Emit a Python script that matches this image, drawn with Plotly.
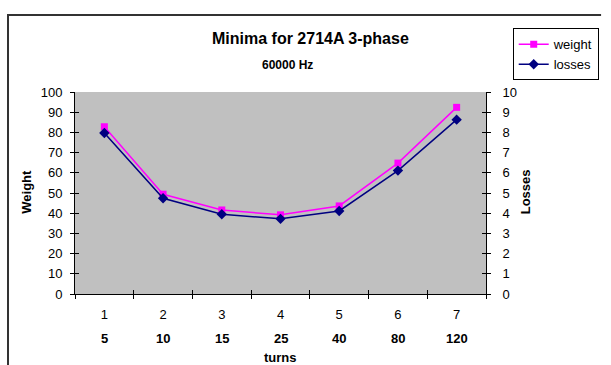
import plotly.graph_objects as go

categories = [1, 2, 3, 4, 5, 6, 7]
turns = ["5", "10", "15", "25", "40", "80", "120"]
weight = [82.8, 49.4, 41.6, 39.2, 43.6, 64.8, 92.4]
losses = [7.97, 4.74, 3.95, 3.72, 4.11, 6.11, 8.63]

FONT = "Arial, Liberation Sans, sans-serif"
boundaries = [c - 0.5 for c in categories] + [categories[-1] + 0.5]

fig = go.Figure()
fig.add_trace(go.Scatter(x=categories, y=weight, name="weight", mode="lines+markers",
                         line=dict(color="#FF00FF", width=1.5),
                         marker=dict(symbol="square", size=7, color="#FF00FF"),
                         xaxis="x", yaxis="y"))
fig.add_trace(go.Scatter(x=categories, y=losses, name="losses", mode="lines+markers",
                         line=dict(color="#000080", width=1.5),
                         marker=dict(symbol="diamond", size=8, color="#000080"),
                         xaxis="x", yaxis="y2"))
for xa, ya in [("x2", "y"), ("x3", "y"), ("x", "y3"), ("x", "y4")]:
    fig.add_trace(go.Scatter(x=[], y=[], xaxis=xa, yaxis=ya, showlegend=False, hoverinfo="skip"))

tickfont = dict(family=FONT, size=13, color="black")
common_y = dict(range=[0, 100], tickvals=list(range(0, 101, 10)), showgrid=False, zeroline=False)

fig.update_layout(
    width=611, height=365,
    margin=dict(l=75, r=119, t=92, b=71),
    paper_bgcolor="white", plot_bgcolor="#C0C0C0",
    font=dict(family=FONT, size=13, color="black"),
    showlegend=True,
    legend=dict(x=1.065, y=1.315, xanchor="left", yanchor="top",
                bgcolor="white", bordercolor="black", borderwidth=1,
                font=dict(family=FONT, size=13, color="black"),
                itemwidth=30, tracegroupgap=0),
    xaxis=dict(range=[0.5, 7.5], tickvals=categories, ticktext=[str(c) for c in categories],
               ticks="", showline=True, linecolor="black", linewidth=1,
               showgrid=False, zeroline=False, tickfont=tickfont, ticklabelstandoff=8),
    xaxis2=dict(range=[0.5, 7.5], overlaying="x", anchor="y", side="bottom",
                tickvals=boundaries, ticks="outside", ticklen=4, tickcolor="black",
                showticklabels=False, showline=False, showgrid=False, zeroline=False),
    xaxis3=dict(range=[0.5, 7.5], overlaying="x", anchor="y", side="bottom",
                tickvals=boundaries, ticks="inside", ticklen=4, tickcolor="black",
                showticklabels=False, showline=False, showgrid=False, zeroline=False),
    yaxis=dict(**common_y, side="left", ticks="outside", ticklen=4, tickcolor="black",
               showline=True, linecolor="black", linewidth=1, tickfont=tickfont,
               ticklabelstandoff=5),
    yaxis2=dict(range=[0, 10], tickvals=list(range(0, 11)), overlaying="y", side="right",
                anchor="x", ticks="outside", ticklen=4, tickcolor="black",
                showline=True, linecolor="black", linewidth=1, showgrid=False, zeroline=False,
                tickfont=tickfont, ticklabelstandoff=9),
    yaxis3=dict(**common_y, overlaying="y", side="left", anchor="x", ticks="inside",
                ticklen=4, tickcolor="black", showticklabels=False, showline=False),
    yaxis4=dict(**common_y, overlaying="y", side="right", anchor="x", ticks="inside",
                ticklen=4, tickcolor="black", showticklabels=False, showline=False),
)

bold = dict(family=FONT, size=13, color="black")
annotations = [
    dict(text="<b>Minima for 2714A 3-phase</b>", x=0.573, y=1.267, xref="paper", yref="paper",
         showarrow=False, font=dict(family=FONT, size=16, color="black"),
         xanchor="center", yanchor="middle"),
    dict(text="<b>60000 Hz</b>", x=0.516, y=1.134, xref="paper", yref="paper",
         showarrow=False, font=dict(family=FONT, size=12, color="black"),
         xanchor="center", yanchor="middle"),
    dict(text="<b>Weight</b>", x=-0.1175, y=0.505, xref="paper", yref="paper", textangle=-90,
         showarrow=False, font=bold, xanchor="center", yanchor="middle"),
    dict(text="<b>Losses</b>", x=1.098, y=0.505, xref="paper", yref="paper", textangle=-90,
         showarrow=False, font=bold, xanchor="center", yanchor="middle"),
    dict(text="<b>turns</b>", x=4, y=-0.315, xref="x", yref="paper",
         showarrow=False, font=bold, xanchor="center", yanchor="middle"),
]
for c, t in zip(categories, turns):
    annotations.append(dict(text=f"<b>{t}</b>", x=c, y=-0.218, xref="x", yref="paper",
                            showarrow=False, font=bold, xanchor="center", yanchor="middle"))
fig.update_layout(annotations=annotations)

# outer chart frame, placed in pixels relative to the top of the plot area
fig.add_shape(type="line", xref="paper", yref="paper", ysizemode="pixel", yanchor=1,
              x0=-0.163, x1=1.28, y0=77, y1=77, line=dict(color="#333333", width=2))
fig.add_shape(type="line", xref="paper", yref="paper", ysizemode="pixel", yanchor=1,
              x0=-0.163, x1=-0.163, y0=78, y1=-320, line=dict(color="#333333", width=2))

fig.write_html("out.html", config={"displayModeBar": False})
